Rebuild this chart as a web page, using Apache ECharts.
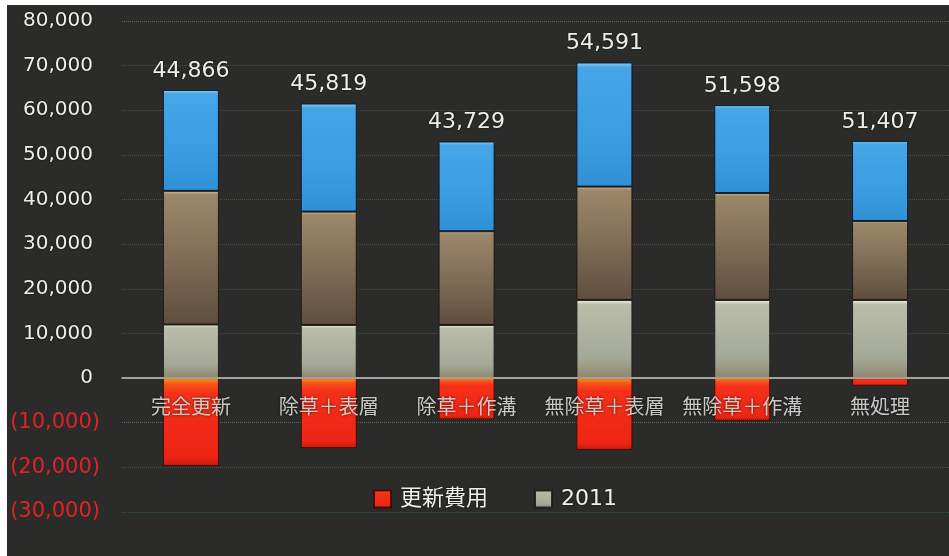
<!DOCTYPE html>
<html>
<head>
<meta charset="utf-8">
<script src="https://cdn.jsdelivr.net/npm/echarts@6/dist/echarts.min.js"></script>
<style>
  html, body { margin: 0; padding: 0; background: #ffffff; }
  #chart { position: absolute; left: 0; top: 0; width: 949px; height: 556px; }
</style>
</head>
<body>
<div id="chart"></div>
<script>
// Categories (treatments)
const categories = ['完全更新', '除草＋表層', '除草＋作溝', '無除草＋表層', '無除草＋作溝', '無処理'];
// Renewal cost (negative) and yearly components, stacked per treatment
const renewalCost = [-19684, -15681, -9271, -16109, -9552, -1693];
const year2011 = [12000, 11900, 11900, 17500, 17500, 17500];
const year2012 = [29950, 25400, 21000, 25400, 23950, 17700];
const year2013 = [22600, 24200, 20100, 27800, 19700, 17900];
// Y axis ticks
const yMin = -30000, yMax = 80000, yStep = 10000;

// Net total per treatment, shown above each stack
const netTotals = categories.map((_, i) =>
  renewalCost[i] + year2011[i] + year2012[i] + year2013[i]);

const fontFam = '"DejaVu Sans", "Noto Sans CJK JP", sans-serif';

function grad(stops) {
  return new echarts.graphic.LinearGradient(0, 0, 0, 1,
    stops.map(s => ({ offset: s[0], color: s[1] })));
}

const chart = echarts.init(document.getElementById('chart'));

const barCommon = {
  type: 'bar',
  stack: 'total',
  barWidth: 56
};

chart.setOption({
  backgroundColor: '#2b2c29',
  animation: false,
  grid: { left: 122, top: 21, width: 838, height: 491 },
  legend: {
    data: ['更新費用', '2011'],
    left: 368,
    top: 483,
    itemWidth: 17,
    itemHeight: 17,
    itemGap: 46,
    icon: 'rect',
    textStyle: {
      color: '#f0f0ec', fontSize: 22, fontFamily: fontFam,
      padding: [0, 0, 0, 4],
      textShadowColor: 'rgba(0,0,0,0.8)', textShadowBlur: 2
    }
  },
  xAxis: {
    type: 'category',
    data: categories,
    z: 5,
    axisLine: { onZero: true, lineStyle: { color: '#c9c9c1', width: 1.5 } },
    axisTick: { show: false },
    axisLabel: { show: false }
  },
  yAxis: {
    type: 'value',
    min: yMin,
    max: yMax,
    interval: yStep,
    axisLine: { show: false },
    axisTick: { show: false },
    splitLine: {
      lineStyle: {
        type: 'dotted',
        width: 1,
        color: ['#2d5a3b', 'rgba(200,200,195,0.22)', 'rgba(200,200,195,0.35)', 'rgba(200,200,195,0.22)',
                'rgba(200,200,195,0.22)', 'rgba(200,200,195,0.22)', 'rgba(200,200,195,0.22)',
                'rgba(200,200,195,0.22)', 'rgba(200,200,195,0.22)', 'rgba(200,200,195,0.22)',
                'rgba(200,200,195,0.22)', 'rgba(200,200,195,0.35)']
      }
    },
    axisLabel: {
      margin: 22,
      fontSize: 20,
      fontFamily: fontFam,
      formatter: v => {
        const s = Math.abs(v).toLocaleString('en-US');
        return v < 0 ? '{n|(' + s + ')}' : '{p|' + s + '}';
      },
      rich: {
        p: { color: '#eeeeea', fontSize: 20, fontFamily: fontFam, padding: [0, 7, 0, 0],
             textShadowColor: 'rgba(0,0,0,0.8)', textShadowBlur: 2 },
        n: { color: '#e0222a', fontSize: 21, fontFamily: fontFam }
      }
    }
  },
  graphic: [
    { type: 'rect', left: 0, top: 0, z: 100, shape: { width: 7, height: 556 }, style: { fill: '#ffffff' } },
    { type: 'rect', left: 0, top: 0, z: 100, shape: { width: 949, height: 5 }, style: { fill: '#ffffff' } }
  ],
  series: [
    Object.assign({}, barCommon, {
      name: '更新費用',
      data: renewalCost,
      itemStyle: {
        borderColor: 'rgba(60,10,5,0.9)', borderWidth: 1,
        color: grad([[0, '#ff9a12'], [0.07, '#f8541a'], [0.18, '#f5301a'], [0.9, '#ee2414'], [1, '#c81a0e']])
      }
    }),
    Object.assign({}, barCommon, {
      name: '2011',
      data: year2011,
      itemStyle: {
        borderColor: 'rgba(30,28,24,0.9)', borderWidth: 1,
        color: grad([[0, '#f4f2e4'], [0.06, '#b9bdaa'], [0.75, '#a4a896'], [1, '#8e876c']])
      }
    }),
    Object.assign({}, barCommon, {
      name: '2012',
      data: year2012,
      itemStyle: {
        borderColor: 'rgba(25,20,16,0.9)', borderWidth: 1,
        color: grad([[0, '#d2bd98'], [0.03, '#9c876a'], [0.5, '#806d56'], [1, '#5e4e3e']])
      }
    }),
    Object.assign({}, barCommon, {
      name: '2013',
      data: year2013,
      itemStyle: {
        borderColor: 'rgba(10,20,35,0.9)', borderWidth: 1,
        color: grad([[0, '#8fd0f6'], [0.04, '#45a6e8'], [0.6, '#3a9de2'], [1, '#3190d6']])
      },
      label: {
        show: true,
        position: 'top',
        distance: 8,
        color: '#efefea',
        fontSize: 22,
        fontFamily: fontFam,
        textShadowColor: 'rgba(0,0,0,0.8)', textShadowBlur: 2,
        formatter: p => netTotals[p.dataIndex].toLocaleString('en-US')
      }
    }),
    // Category names placed just under the zero line
    {
      type: 'scatter',
      name: 'categoryNames',
      z: 10,
      symbolSize: 0,
      silent: true,
      data: categories.map(c => [c, 0]),
      label: {
        show: true,
        position: 'bottom',
        distance: 21,
        formatter: p => p.name || p.value[0],
        color: '#f2f2ee',
        fontSize: 20,
        fontFamily: fontFam,
        textShadowColor: 'rgba(0,0,0,0.9)', textShadowBlur: 3
      }
    }
  ]
});
</script>
</body>
</html>
